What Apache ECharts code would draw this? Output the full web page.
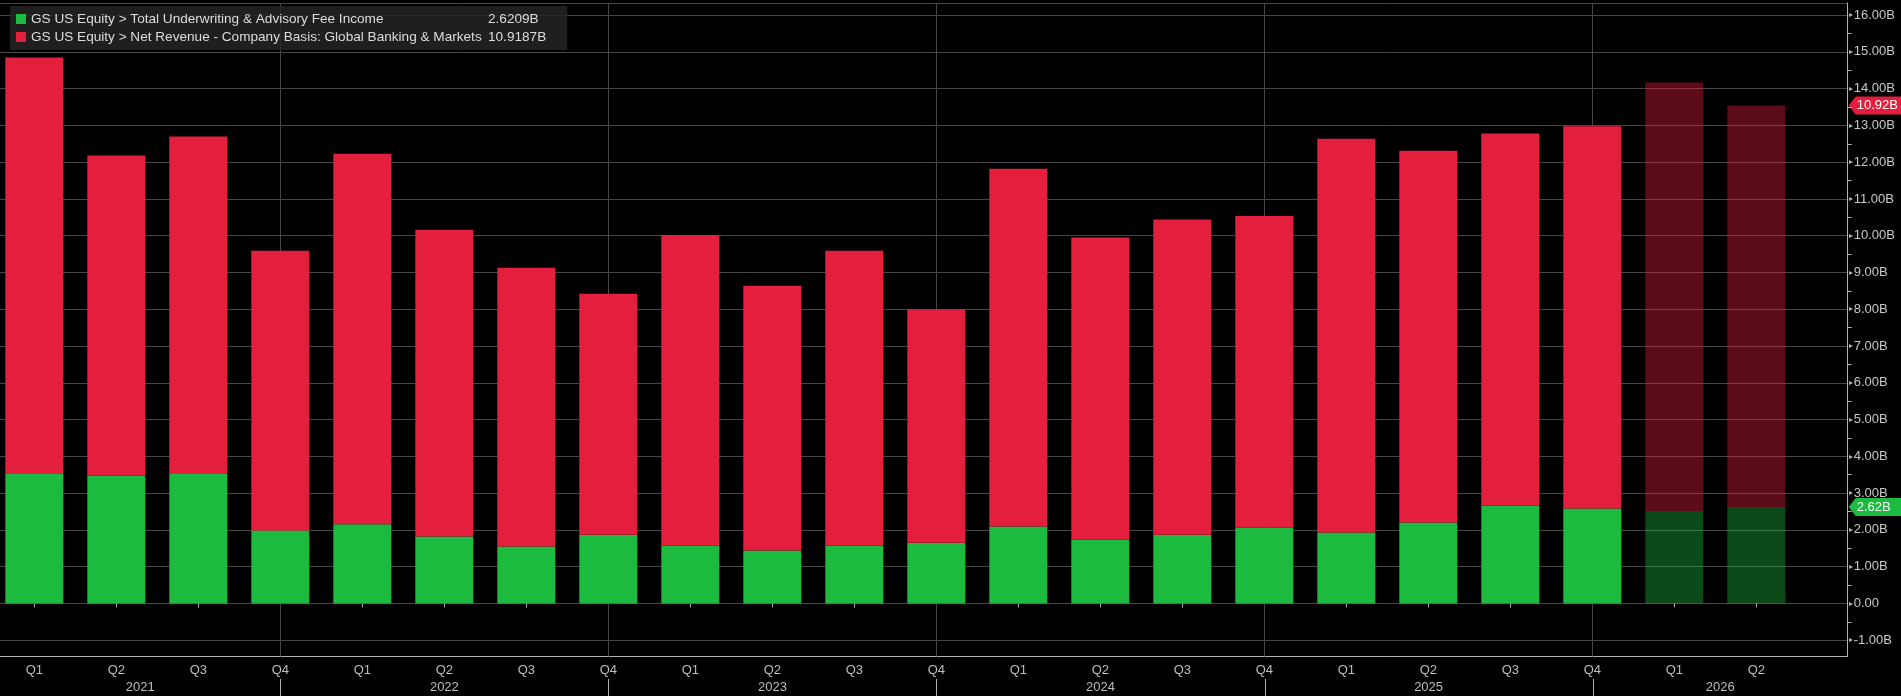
<!DOCTYPE html>
<html>
<head>
    <meta charset="utf-8">
    <title>GS US Equity</title>
    <script src="https://cdn.jsdelivr.net/npm/echarts@6.0.0/dist/echarts.min.js"></script>
    <style>
        html, body { margin: 0; padding: 0; background: #000; }
        #main { width: 1901px; height: 696px; }
    </style>
</head>
<body>
<div id="main"></div>
<script type="text/javascript">

    // quarters 2021 Q1 .. 2026 Q2 (last two are estimates)
    var quarters = ['Q1','Q2','Q3','Q4','Q1','Q2','Q3','Q4','Q1','Q2','Q3','Q4',
                    'Q1','Q2','Q3','Q4','Q1','Q2','Q3','Q4','Q1','Q2'];
    var feeIncome = [3.54, 3.48, 3.54, 1.98, 2.15, 1.82, 1.55, 1.87, 1.57, 1.44, 1.57,
                     1.65, 2.09, 1.74, 1.87, 2.06, 1.93, 2.20, 2.66, 2.58, 2.51, 2.62];
    var gbmRevenue = [11.31, 8.70, 9.16, 7.61, 10.08, 8.34, 7.58, 6.55, 8.45, 7.20, 8.02,
                      6.35, 9.73, 8.21, 8.57, 8.48, 10.71, 10.11, 10.12, 10.40, 11.66, 10.92];
    var isEstimate = [false, false, false, false, false, false, false, false, false, false, false,
                      false, false, false, false, false, false, false, false, false, true, true];
    var years = ['2021', '2022', '2023', '2024', '2025', '2026'];
    var yearBreaks = [3, 7, 11, 15, 19];   // index of each Q4, where a year ends
    var lastFee = '2.6209B', lastGbm = '10.9187B';

    var feeName = 'GS US Equity > Total Underwriting & Advisory Fee Income';
    var gbmName = 'GS US Equity > Net Revenue - Company Basis: Global Banking & Markets';
    var GREEN = '#1dba40', RED = '#e41e3d';
    var FONT = '"Liberation Sans", Arial, sans-serif';

    // frame axis runs a bit past the bars on both ends
    var xMin = -0.418, xMax = 22.11;
    var yMin = -1.45, yMax = 16.33;

    function toData(vals) {
        return vals.map(function (v, i) {
            var d = { value: v };
            if (isEstimate[i]) d.itemStyle = { opacity: 0.4 };
            return d;
        });
    }

    var myChart = echarts.init(document.getElementById('main'));

    var option = {
        backgroundColor: '#000',
        animation: false,
        textStyle: { fontFamily: FONT },
        grid: [
            // bars: first/last category sit on the grid edges, 82px apart
            { left: 34.3, right: 144.7, top: 3, bottom: 39.3, containLabel: false },
            // frame: grid lines, axis lines, right value labels
            { left: 0, right: 53.3, top: 3, bottom: 39.3, containLabel: false }
        ],
        legend: {
            left: 10, top: 6,
            orient: 'vertical',
            backgroundColor: 'rgba(36,36,36,0.85)',
            padding: [6, 21, 6, 6],
            itemGap: 4,
            itemWidth: 10, itemHeight: 10,
            icon: 'rect',
            selectedMode: false,
            data: [feeName, gbmName],
            formatter: function (name) {
                return '{n|' + name + '}{v|' + (name === feeName ? lastFee : lastGbm) + '}';
            },
            textStyle: {
                color: '#dcdcdc', fontSize: 13.6, fontFamily: FONT,
                rich: {
                    n: { width: 457, fontSize: 13.6, color: '#dcdcdc', fontFamily: FONT },
                    v: { fontSize: 13.6, color: '#dcdcdc', fontFamily: FONT }
                }
            }
        },
        xAxis: [
            {
                type: 'category',
                gridIndex: 0,
                data: quarters,
                boundaryGap: false,
                axisLine: { show: false },
                axisTick: { show: true, length: 4, lineStyle: { color: '#b4b4b4' } },
                splitLine: { show: false },
                axisLabel: { color: '#bdbdbd', fontSize: 13, margin: 7, interval: 0 }
            },
            {
                type: 'value',
                gridIndex: 1,
                min: xMin, max: xMax,
                axisLine: { show: true, onZero: false, lineStyle: { color: '#b4b4b4', width: 1 } },
                axisTick: { show: false },
                axisLabel: { show: false },
                splitLine: { show: false }
            }
        ],
        yAxis: [
            {
                type: 'value',
                gridIndex: 0,
                min: yMin, max: yMax,
                show: false
            },
            {
                type: 'value',
                gridIndex: 1,
                position: 'right',
                min: yMin, max: yMax,
                minInterval: 1, maxInterval: 1,
                axisLine: { show: true, onZero: false, lineStyle: { color: '#b4b4b4', width: 1 } },
                axisTick: { show: false },
                minorTick: { show: true, splitNumber: 2, length: 4, lineStyle: { color: '#b4b4b4' } },
                splitLine: { show: true, lineStyle: { color: '#474747', width: 1 } },
                axisLabel: {
                    margin: 1,
                    showMinLabel: false, showMaxLabel: false,
                    formatter: function (v) {
                        var s = v === 0 ? '0.00' : v.toFixed(2) + 'B';
                        return '{t|\u25B8}{l|' + s + '}';
                    },
                    rich: {
                        t: { fontSize: 8, color: '#b4b4b4', padding: [0, 1, 0, 0] },
                        l: { fontSize: 13, color: '#c8c8c8', fontFamily: FONT }
                    }
                }
            }
        ],
        series: [
            {
                name: feeName,
                type: 'bar',
                xAxisIndex: 0, yAxisIndex: 0,
                stack: 'total',
                barWidth: 58,
                clip: false,
                color: GREEN,
                data: toData(feeIncome),
                markLine: {
                    silent: true,
                    z: 1,
                    symbol: ['none', 'none'],
                    label: { show: false },
                    lineStyle: { color: '#474747', type: 'solid', width: 1 },
                    emphasis: { disabled: true },
                    data: yearBreaks.map(function (v) { return { xAxis: v }; })
                }
            },
            {
                name: gbmName,
                type: 'bar',
                xAxisIndex: 0, yAxisIndex: 0,
                stack: 'total',
                barWidth: 58,
                clip: false,
                color: RED,
                data: toData(gbmRevenue)
            }
        ]
    };
    myChart.setOption(option);

    // year row, year separators and the last-value tags on the right axis
    function px(v) { return myChart.convertToPixel({ xAxisIndex: 1 }, v); }
    function py(v) { return myChart.convertToPixel({ yAxisIndex: 1 }, v); }

    var graphics = [];
    var bounds = [xMin].concat(yearBreaks).concat([xMax]);
    years.forEach(function (y, i) {
        var mid = (bounds[i] + bounds[i + 1]) / 2;
        graphics.push({
            type: 'text', x: px(mid), y: 687,
            style: { text: y, fill: '#bdbdbd', font: '13px ' + FONT, align: 'center', verticalAlign: 'middle' }
        });
    });
    yearBreaks.forEach(function (b) {
        var x = Math.round(px(b)) + 0.5;
        graphics.push({
            type: 'line', shape: { x1: x, y1: 679, x2: x, y2: 696 },
            style: { stroke: '#b4b4b4', lineWidth: 1 }
        });
    });

    var axisX = px(xMax);
    function tag(val, text, color) {
        var yc = py(val);
        graphics.push({
            type: 'polygon',
            shape: { points: [[axisX + 1, yc], [axisX + 8, yc - 9], [1901, yc - 9], [1901, yc + 9], [axisX + 8, yc + 9]] },
            style: { fill: color }
        });
        graphics.push({
            type: 'text', x: axisX + 9, y: yc,
            style: { text: text, fill: '#fff', font: '13px ' + FONT, verticalAlign: 'middle' }
        });
    }
    var n = feeIncome.length - 1;
    tag(feeIncome[n] + gbmRevenue[n], gbmRevenue[n].toFixed(2) + 'B', RED);
    tag(feeIncome[n], feeIncome[n].toFixed(2) + 'B', GREEN);

    myChart.setOption({ graphic: graphics });

</script>
</body>
</html>
